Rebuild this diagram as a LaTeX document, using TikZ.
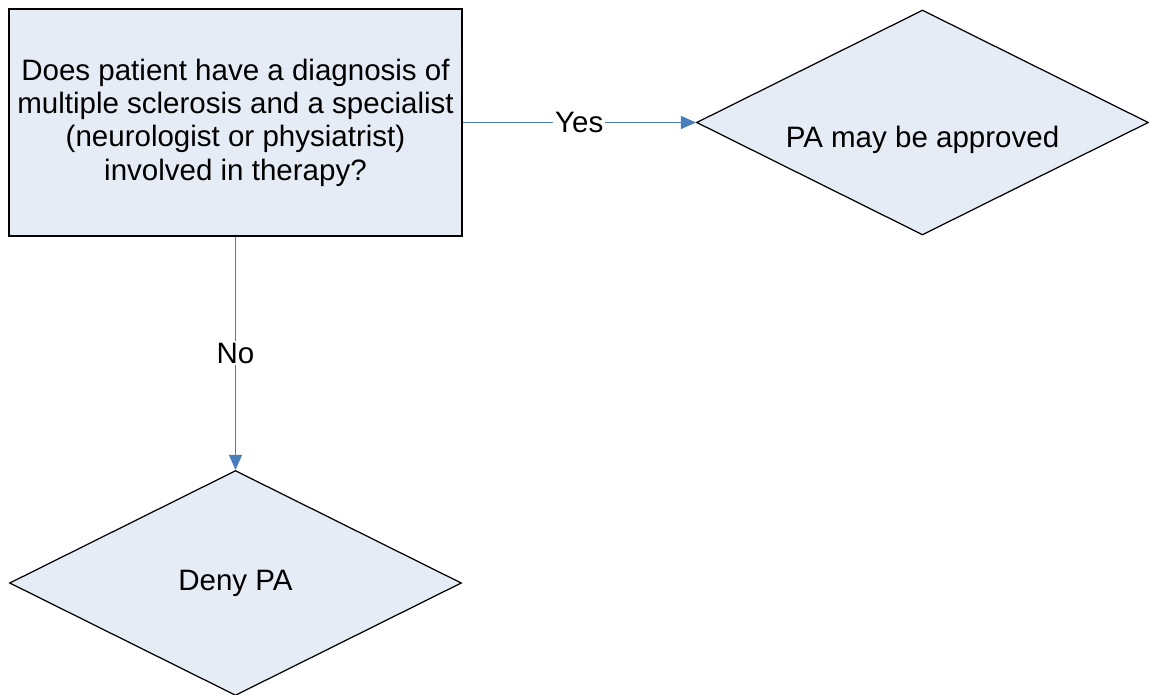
\documentclass[tikz,border=0pt]{standalone}
\usepackage{fontspec}
\setmainfont{Liberation Sans}
\usetikzlibrary{arrows.meta,shapes.geometric}

\definecolor{boxfill}{RGB}{230,236,246}
\definecolor{linkblue}{HTML}{4A7EBB}

\begin{document}
\begin{tikzpicture}[x=0.02cm,y=-0.02cm,>={Triangle[length=8.5pt,width=7.4pt]},
  font=\fontsize{16.8}{19}\selectfont]
\tikzstyle{question}=[draw,fill=boxfill,line width=0.7pt,minimum width=9.06cm,
  minimum height=4.54cm,align=center]
\tikzstyle{answer}=[draw,fill=boxfill,line width=0.7pt,diamond,shape aspect=2,
  inner sep=0pt,minimum width=9.04cm,minimum height=4.5cm]
\tikzstyle{link}=[color=linkblue,line width=0.75pt]
\tikzstyle{tag}=[fill=white,text=black,inner sep=1pt]

\useasboundingbox (0,0) rectangle (1149,695);

\node[question] (Q) at (235.5,122.5) {Does patient have a diagnosis of\\
  multiple sclerosis and a specialist\\ (neurologist or physiatrist)\\
  involved in therapy?};

\node[answer] (OK) at (922.5,122.5)
  {\raisebox{-0.5cm}[0pt][0pt]{\makebox[0pt]{PA may be approved}}};

\node[answer] (NO) at (235.5,583) {Deny PA};

\path[->,link] (Q) edge node[tag] {Yes} (OK);
\path[->,link] (Q) edge node[tag] {No} (NO);

\end{tikzpicture}
\end{document}
